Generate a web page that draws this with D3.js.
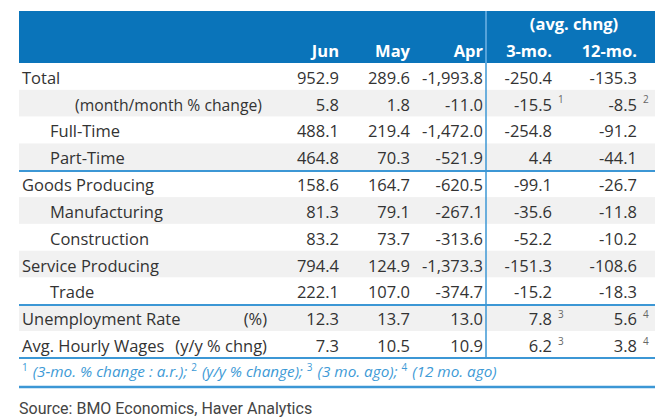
<!DOCTYPE html>
<html lang="en">
<head>
<meta charset="UTF-8">
<title>Labour market table</title>
<style>
  body { margin: 0; background: #fff; }
  svg { display: block; }
</style>
</head>
<body>
<div id="chart"></div>
<script src="https://cdnjs.cloudflare.com/ajax/libs/d3/7.8.2/d3.min.js"></script>
<script>
// table data
var rowLabels = ["Total", "(month/month % change)", "Full-Time", "Part-Time",
  "Goods Producing", "Manufacturing", "Construction", "Service Producing", "Trade",
  "Unemployment Rate", "Avg. Hourly Wages"];
var rowIndent = [0, 2, 1, 1, 0, 1, 1, 0, 1, 0, 0];
var rowUnits = ["", "", "", "", "", "", "", "", "", "(%)", "(y/y % chng)"];
var jun = [952.9, 5.8, 488.1, 464.8, 158.6, 81.3, 83.2, 794.4, 222.1, 12.3, 7.3];
var may = [289.6, 1.8, 219.4, 70.3, 164.7, 79.1, 73.7, 124.9, 107.0, 13.7, 10.5];
var apr = [-1993.8, -11.0, -1472.0, -521.9, -620.5, -267.1, -313.6, -1373.3, -374.7, 13.0, 10.9];
var avg3 = [-250.4, -15.5, -254.8, 4.4, -99.1, -35.6, -52.2, -151.3, -15.2, 7.8, 6.2];
var avg12 = [-135.3, -8.5, -91.2, -44.1, -26.7, -11.8, -10.2, -108.6, -18.3, 5.6, 3.8];
var note3 = ["", "1", "", "", "", "", "", "", "", "3", "3"];
var note12 = ["", "2", "", "", "", "", "", "", "", "4", "4"];
var columnHeads = ["Jun", "May", "Apr", "3-mo.", "12-mo."];
var groupHead = "(avg. chng)";
var footnotes = [["1", "(3-mo. % change : a.r.); "], ["2", "(y/y % change); "],
  ["3", "(3 mo. ago); "], ["4", "(12 mo. ago)"]];
var source = "Source: BMO Economics, Haver Analytics";

var W = 657, H = 417;
var left = 19, right = 655;
var blue = "#0a74ba", lineBlue = "#3c97d5", textCol = "#333";
var font = "'Open Sans', sans-serif";

var svg = d3.select("#chart").append("svg")
  .attr("width", W).attr("height", H)
  .attr("font-family", font);

// rows
var y = d3.scaleBand()
  .domain(d3.range(rowLabels.length))
  .range([63, 358]);

// right edges of the value columns
var x = d3.scaleOrdinal()
  .domain(columnHeads)
  .range([339, 410, 483, 552, 637]);

var fmt = d3.format(",.1f");
var fmtNum = function(v) { return fmt(v).replace("−", "-"); };

// header band
svg.append("rect")
  .attr("x", left).attr("y", 11)
  .attr("width", right - left).attr("height", 52)
  .attr("fill", blue);

svg.append("text")
  .attr("x", 574).attr("y", 30)
  .attr("text-anchor", "middle")
  .attr("fill", "#fff").attr("font-weight", "bold").attr("font-size", 16.5)
  .text(groupHead);

svg.selectAll(".colhead")
  .data(columnHeads)
  .enter().append("text")
  .attr("class", "colhead")
  .attr("x", function(d) { return x(d); })
  .attr("y", 57)
  .attr("text-anchor", "end")
  .attr("fill", "#fff").attr("font-weight", "bold").attr("font-size", 16.5)
  .text(function(d) { return d; });

// row backgrounds
var rows = svg.selectAll(".row")
  .data(rowLabels)
  .enter().append("g")
  .attr("class", "row")
  .attr("transform", function(d, i) { return "translate(0," + y(i) + ")"; });

rows.append("rect")
  .attr("x", left).attr("width", right - left)
  .attr("height", y.bandwidth())
  .attr("fill", function(d, i) { return i % 2 ? "#f1f1f1" : "#fff"; });

var mid = y.bandwidth() / 2;

rows.append("text")
  .attr("x", function(d, i) { return 22 + [0, 28, 53][rowIndent[i]]; })
  .attr("y", mid).attr("dy", "0.45em")
  .attr("fill", textCol).attr("font-size", 16.5)
  .attr("textLength", function(d, i) { return rowIndent[i] === 2 ? 187 : null; })
  .attr("lengthAdjust", "spacingAndGlyphs")
  .text(function(d) { return d; });

rows.filter(function(d, i) { return rowUnits[i]; })
  .append("text")
  .attr("x", 267)
  .attr("y", mid).attr("dy", "0.45em")
  .attr("text-anchor", "end")
  .attr("fill", textCol).attr("font-size", 16.5)
  .text(function(d) { return rowUnits[rowLabels.indexOf(d)]; });

var series = [jun, may, apr, avg3, avg12];
series.forEach(function(vals, c) {
  rows.append("text")
    .attr("x", x(columnHeads[c]))
    .attr("y", mid).attr("dy", "0.45em")
    .attr("text-anchor", "end")
    .attr("fill", textCol).attr("font-size", 16.5)
    .text(function(d, i) { return fmtNum(vals[i]); });
});

[note3, note12].forEach(function(notes, c) {
  rows.append("text")
    .attr("x", x(columnHeads[c + 3]) + 6)
    .attr("y", mid).attr("dy", "0em")
    .attr("fill", "#666").attr("font-size", 10)
    .text(function(d, i) { return notes[i]; });
});

// separator lines
[171, 305, 358].forEach(function(ly) {
  svg.append("line")
    .attr("x1", left).attr("x2", right)
    .attr("y1", ly).attr("y2", ly)
    .attr("stroke", lineBlue).attr("stroke-width", 2);
});
svg.append("line")
  .attr("x1", left).attr("x2", right)
  .attr("y1", 387).attr("y2", 387)
  .attr("stroke", lineBlue).attr("stroke-width", 2.5);

// vertical divider
svg.append("line")
  .attr("x1", 486).attr("x2", 486)
  .attr("y1", 11).attr("y2", 63)
  .attr("stroke", "#6fb3e6").attr("stroke-width", 1.5);
svg.append("line")
  .attr("x1", 486).attr("x2", 486)
  .attr("y1", 63).attr("y2", 358)
  .attr("stroke", lineBlue).attr("stroke-width", 1.5);

// footnote line
var foot = svg.append("text")
  .attr("x", 22).attr("y", 377)
  .attr("fill", "#3d9ad6").attr("font-size", 15.3).attr("font-style", "italic");
footnotes.forEach(function(f) {
  foot.append("tspan").attr("font-size", 10).attr("dy", -6).attr("font-style", "normal").text(f[0]);
  foot.append("tspan").attr("dy", 6).attr("dx", 5).text(f[1]);
});

svg.append("text")
  .attr("x", 19).attr("y", 414)
  .attr("font-family", "Roboto, sans-serif")
  .attr("fill", "#444").attr("font-size", 16)
  .text(source);
</script>
</body>
</html>
